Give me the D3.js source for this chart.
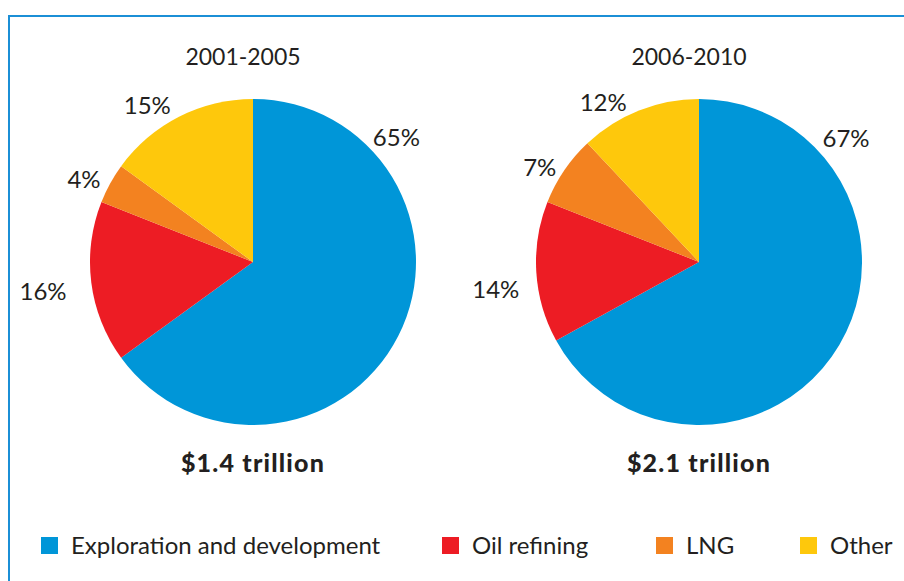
<!DOCTYPE html>
<html>
<head>
<meta charset="utf-8">
<script src="https://cdn.jsdelivr.net/npm/d3@7"></script>
<style>
  html, body { margin: 0; padding: 0; background: #ffffff; }
  svg { display: block; }
  text { font-family: "Lato", "Liberation Sans", sans-serif; fill: #231f20; }
</style>
</head>
<body>
<svg id="chart" width="904" height="581"></svg>
<script>
// Investment split by segment, two periods
const categories = ["Exploration and development", "Oil refining", "LNG", "Other"];
const periods = ["2001-2005", "2006-2010"];
const shares2001 = [65, 16, 4, 15];
const shares2006 = [67, 14, 7, 12];
const totals = ["$1.4 trillion", "$2.1 trillion"];

const colors = ["#0096d8", "#ed1c24", "#f38220", "#fec80c"];

// Layout
const W = 904, H = 581;
const radius = 163;
const centers = [{ x: 253, y: 262 }, { x: 699, y: 262 }];
// label placement around each pie: [angle in degrees clockwise from 12 o'clock, distance from centre]
const labelPolar = [
  [[49, 190], [262, 212], [296, 188], [326, 189]],
  [[50, 192], [262.4, 205], [300.6, 185], [329, 186]]
];

const svg = d3.select("#chart");

// frame
svg.append("path")
  .attr("d", `M9,${H + 2} L9,16 L${W + 2},16`)
  .attr("fill", "none")
  .attr("stroke", "#1b8fd6")
  .attr("stroke-width", 2);

const color = d3.scaleOrdinal().domain(categories).range(colors);
const pie = d3.pie().sort(null).value(d => d.value);
const arc = d3.arc().innerRadius(0).outerRadius(radius);

[shares2001, shares2006].forEach((shares, i) => {
  const data = categories.map((c, k) => ({ cat: c, value: shares[k] }));
  const g = svg.append("g").attr("transform", `translate(${centers[i].x},${centers[i].y})`);

  g.selectAll("path.slice")
    .data(pie(data))
    .join("path")
    .attr("class", "slice")
    .attr("d", arc)
    .attr("fill", d => color(d.data.cat));

  g.selectAll("text.pct")
    .data(pie(data))
    .join("text")
    .attr("class", "pct")
    .attr("x", (d, k) => labelPolar[i][k][1] * Math.sin(labelPolar[i][k][0] * Math.PI / 180))
    .attr("y", (d, k) => -labelPolar[i][k][1] * Math.cos(labelPolar[i][k][0] * Math.PI / 180))
    .attr("dy", "0.36em")
    .attr("text-anchor", "middle")
    .style("font-size", "24px")
    .style("font-weight", 400)
    .text(d => d.data.value + "%");

  g.append("text")
    .attr("x", -10)
    .attr("y", -205)
    .attr("dy", "0.36em")
    .attr("text-anchor", "middle")
    .style("font-size", "23px")
    .style("font-weight", 400)
    .text(periods[i]);

  g.append("text")
    .attr("x", 0)
    .attr("y", 201)
    .attr("dy", "0.36em")
    .attr("text-anchor", "middle")
    .style("font-size", "25px")
    .style("font-weight", 900)
    .style("letter-spacing", "1.2px")
    .text(totals[i]);
});

// legend
const legendX = [41, 442, 656, 800];
const legend = svg.append("g").attr("transform", "translate(0,545)");
const items = legend.selectAll("g.item")
  .data(categories)
  .join("g")
  .attr("class", "item")
  .attr("transform", (d, k) => `translate(${legendX[k]},0)`);
items.append("rect")
  .attr("x", 0).attr("y", -8)
  .attr("width", 17).attr("height", 17)
  .attr("fill", d => color(d));
items.append("text")
  .attr("x", 30).attr("y", 0)
  .attr("dy", "0.36em")
  .style("font-size", "24px")
  .style("font-weight", 400)
  .text(d => d);
</script>
</body>
</html>
